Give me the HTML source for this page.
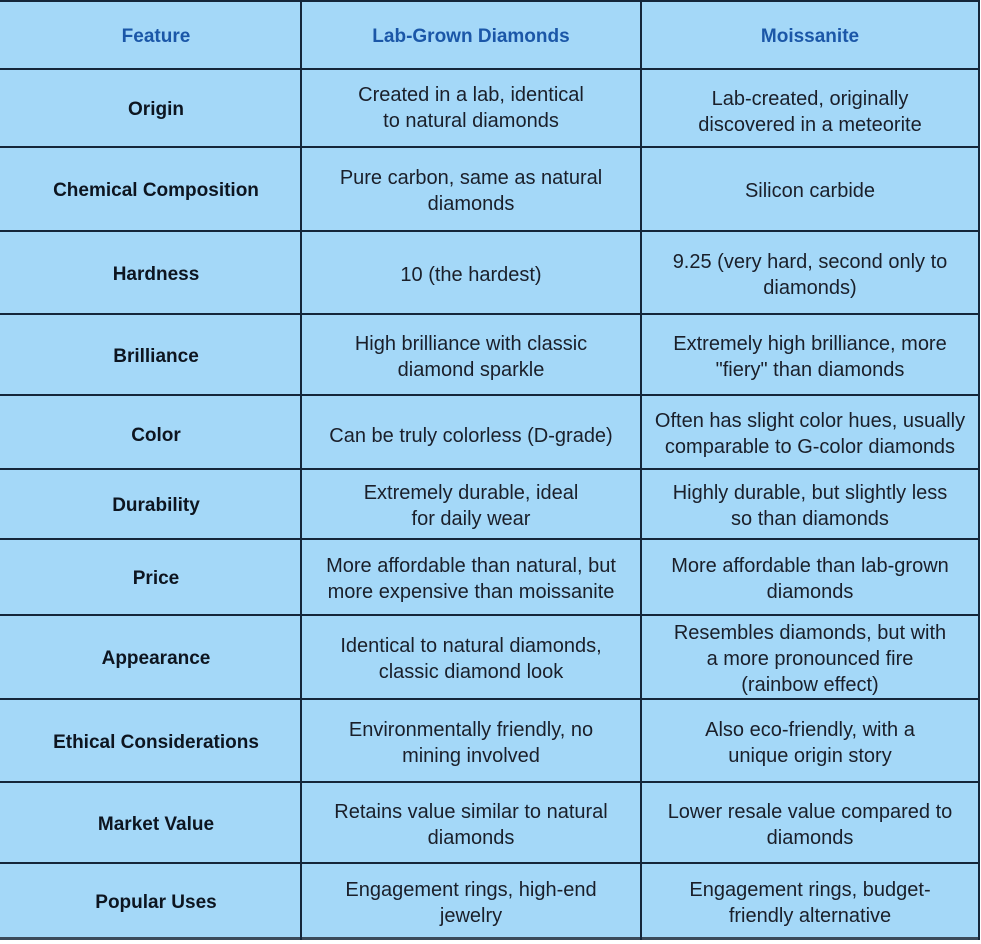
<!DOCTYPE html>
<html><head><meta charset="utf-8"><style>
html,body{margin:0;padding:0;background:#fff;}
#t{position:absolute;left:0;top:0;width:980px;height:940px;background:#a4d8f8;overflow:hidden;}
.h{position:absolute;background:#15263a;height:2px;left:0;width:981px;}
.v{position:absolute;background:#15263a;width:2px;top:0;height:940px;}
.c{position:absolute;display:flex;align-items:center;justify-content:center;text-align:center;font-size:20px;line-height:26px;color:#1a1f2a;font-family:"Liberation Sans",sans-serif;box-sizing:border-box;padding-top:4px;}
.b{font-weight:bold;color:#0d1520;font-size:19px;}
.hd{font-weight:bold;color:#1b57a8;font-size:19px;}
</style></head><body><div id="t">
<div class="h" style="top:0"></div>
<div class="h" style="top:68px"></div><div class="h" style="top:146px"></div><div class="h" style="top:230px"></div><div class="h" style="top:313px"></div><div class="h" style="top:394px"></div><div class="h" style="top:468px"></div><div class="h" style="top:538px"></div><div class="h" style="top:614px"></div><div class="h" style="top:698px"></div><div class="h" style="top:781px"></div><div class="h" style="top:862px"></div><div class="h" style="top:937px;height:3px;background:#3a4a5a"></div>
<div class="v" style="left:300px"></div><div class="v" style="left:640px"></div><div class="v" style="left:978px"></div>
</div>
<div style="position:absolute;left:0;top:0;width:981px;height:940px;">
<div class="c hd" style="left:0;width:312px;top:0;height:69px">Feature</div>
<div class="c hd" style="left:301px;width:340px;top:0;height:69px">Lab-Grown Diamonds</div>
<div class="c hd" style="left:641px;width:338px;top:0;height:69px">Moissanite</div>

<div class="c b" style="left:0;width:312px;top:69px;height:78px">Origin</div>
<div class="c" style="left:301px;width:340px;top:69px;height:74px">Created in a lab, identical<br>to natural diamonds</div>
<div class="c" style="left:641px;width:338px;top:69px;height:82px">Lab-created, originally<br>discovered in a meteorite</div>

<div class="c b" style="left:0;width:312px;top:147px;height:84px">Chemical Composition</div>
<div class="c" style="left:301px;width:340px;top:147px;height:84px">Pure carbon, same as natural<br>diamonds</div>
<div class="c" style="left:641px;width:338px;top:147px;height:84px">Silicon carbide</div>

<div class="c b" style="left:0;width:312px;top:231px;height:83px">Hardness</div>
<div class="c" style="left:301px;width:340px;top:231px;height:83px">10 (the hardest)</div>
<div class="c" style="left:641px;width:338px;top:231px;height:83px">9.25 (very hard, second only to<br>diamonds)</div>

<div class="c b" style="left:0;width:312px;top:314px;height:81px">Brilliance</div>
<div class="c" style="left:301px;width:340px;top:314px;height:81px">High brilliance with classic<br>diamond sparkle</div>
<div class="c" style="left:641px;width:338px;top:314px;height:81px">Extremely high brilliance, more<br>"fiery" than diamonds</div>

<div class="c b" style="left:0;width:312px;top:395px;height:78px">Color</div>
<div class="c" style="left:301px;width:340px;top:395px;height:78px">Can be truly colorless (D-grade)</div>
<div class="c" style="left:641px;width:338px;top:395px;height:74px">Often has slight color hues, usually<br>comparable to G-color diamonds</div>

<div class="c b" style="left:0;width:312px;top:469px;height:70px">Durability</div>
<div class="c" style="left:301px;width:340px;top:469px;height:70px">Extremely durable, ideal<br>for daily wear</div>
<div class="c" style="left:641px;width:338px;top:469px;height:70px">Highly durable, but slightly less<br>so than diamonds</div>

<div class="c b" style="left:0;width:312px;top:539px;height:76px">Price</div>
<div class="c" style="left:301px;width:340px;top:539px;height:76px">More affordable than natural, but<br>more expensive than moissanite</div>
<div class="c" style="left:641px;width:338px;top:539px;height:76px">More affordable than lab-grown<br>diamonds</div>

<div class="c b" style="left:0;width:312px;top:615px;height:84px">Appearance</div>
<div class="c" style="left:301px;width:340px;top:615px;height:84px">Identical to natural diamonds,<br>classic diamond look</div>
<div class="c" style="left:641px;width:338px;top:615px;height:84px">Resembles diamonds, but with<br>a more pronounced fire<br>(rainbow effect)</div>

<div class="c b" style="left:0;width:312px;top:699px;height:83px">Ethical Considerations</div>
<div class="c" style="left:301px;width:340px;top:699px;height:83px">Environmentally friendly, no<br>mining involved</div>
<div class="c" style="left:641px;width:338px;top:699px;height:83px">Also eco-friendly, with a<br>unique origin story</div>

<div class="c b" style="left:0;width:312px;top:782px;height:81px">Market Value</div>
<div class="c" style="left:301px;width:340px;top:782px;height:81px">Retains value similar to natural<br>diamonds</div>
<div class="c" style="left:641px;width:338px;top:782px;height:81px">Lower resale value compared to<br>diamonds</div>

<div class="c b" style="left:0;width:312px;top:863px;height:76px">Popular Uses</div>
<div class="c" style="left:301px;width:340px;top:863px;height:76px">Engagement rings, high-end<br>jewelry</div>
<div class="c" style="left:641px;width:338px;top:863px;height:76px">Engagement rings, budget-<br>friendly alternative</div>
</div>
</body></html>
